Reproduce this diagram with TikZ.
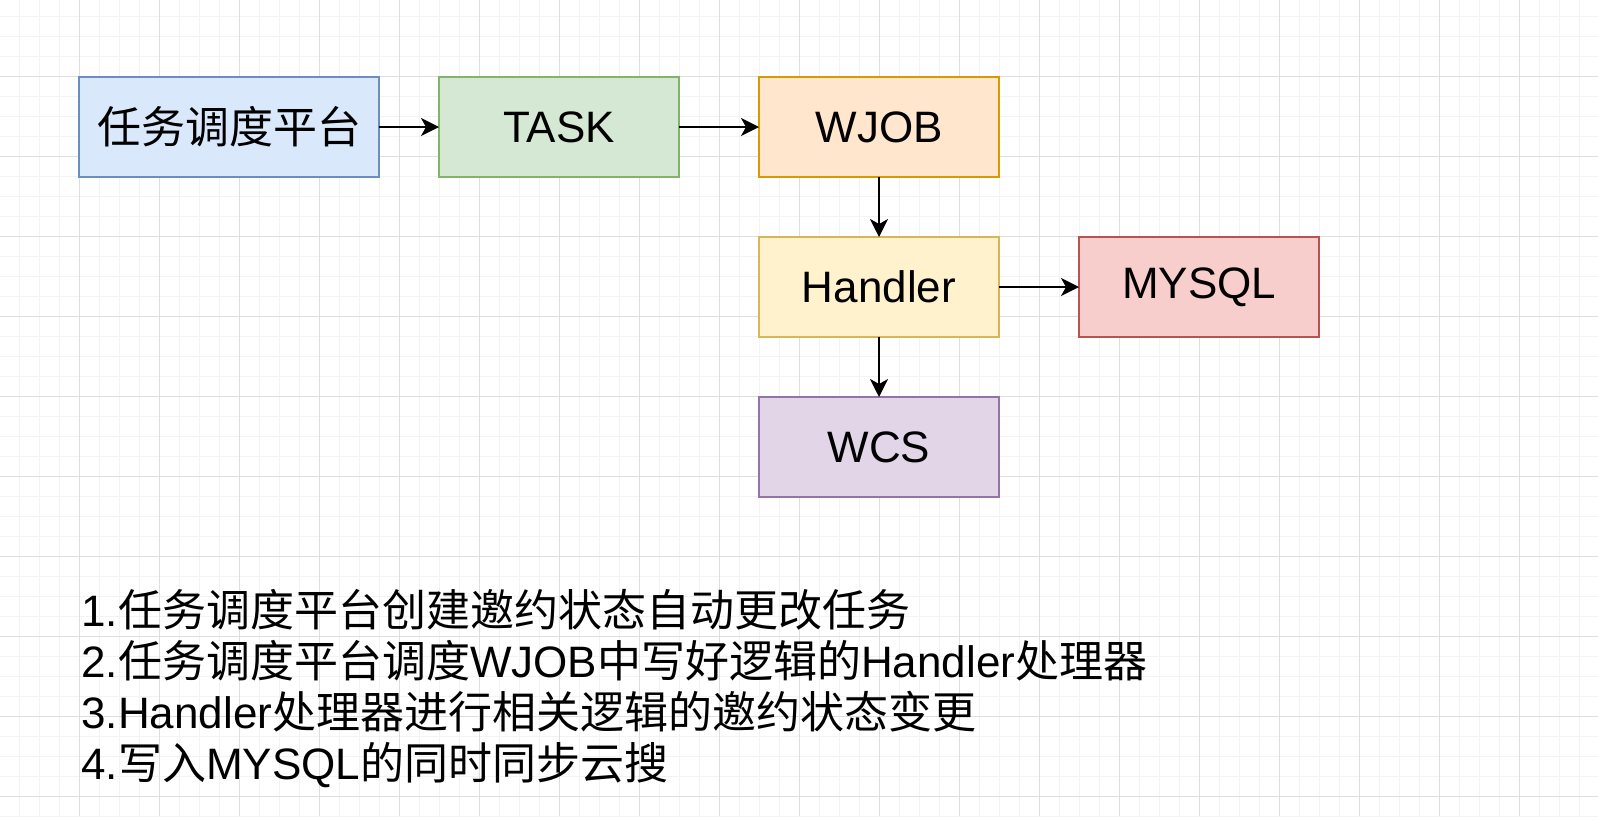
\documentclass[tikz,border=0pt]{standalone}
\usepackage{fontspec}
\setmainfont{Liberation Sans}
\newfontfamily\zhfont{Noto Sans CJK SC}
\usetikzlibrary{arrows.meta,positioning}

\definecolor{gridMinor}{HTML}{F3F3F3}
\definecolor{gridMajor}{HTML}{DEDEDE}
\definecolor{blueFill}{HTML}{DAE8FC}   \definecolor{blueLine}{HTML}{6C8EBF}
\definecolor{greenFill}{HTML}{D5E8D4}  \definecolor{greenLine}{HTML}{82B366}
\definecolor{orangeFill}{HTML}{FFE6CC} \definecolor{orangeLine}{HTML}{D79B00}
\definecolor{yellowFill}{HTML}{FFF2CC} \definecolor{yellowLine}{HTML}{D6B656}
\definecolor{redFill}{HTML}{F8CECC}    \definecolor{redLine}{HTML}{B85450}
\definecolor{purpleFill}{HTML}{E1D5E7} \definecolor{purpleLine}{HTML}{9673A6}

\begin{document}
\begin{tikzpicture}[> = {Stealth[length=9pt, width=9pt, inset=2.5pt]}, x = 0.5pt, y = -0.5pt,
		node distance = 30pt,
		box/.style = {draw, line width=0.7pt, minimum width=120pt, minimum height=50pt,
			inner sep=0pt, outer sep=0pt, font=\fontsize{22}{26}\selectfont},
		note/.style = {anchor=base west, inner sep=0pt, font=\fontsize{22}{26}\selectfont},
		link/.style = {->, line width=1pt}]
		\useasboundingbox (0,0) rectangle (1598,816);
		\fill[white] (0,0) rectangle (1598,816);
		% grid
		\foreach \x in {19,39,...,1598} \draw[gridMinor, line width=0.5pt] (\x,0) -- (\x,816);
		\foreach \y in {16,36,...,816} \draw[gridMinor, line width=0.5pt] (0,\y) -- (1598,\y);
		\foreach \x in {79,159,...,1598} \draw[gridMajor, line width=0.5pt] (\x,0) -- (\x,816);
		\foreach \y in {76,156,...,816} \draw[gridMajor, line width=0.5pt] (0,\y) -- (1598,\y);
		% boxes
		\node[box, minimum width=150pt, fill=blueFill, draw=blueLine] (platform) at (229,127) {\zhfont 任务调度平台};
		\node[box, fill=greenFill, draw=greenLine, right=of platform] (task) {TASK};
		\node[box, fill=orangeFill, draw=orangeLine, right=40pt of task] (wjob) {WJOB};
		\node[box, fill=yellowFill, draw=yellowLine, below=of wjob] (handler) {Handler};
		\node[box, fill=redFill, draw=redLine, right=40pt of handler] (mysql) {MYSQL};
		\node[box, fill=purpleFill, draw=purpleLine, below=of handler] (wcs) {WCS};
		\draw[link] (platform) -- (task);
		\draw[link] (task) -- (wjob);
		\draw[link] (wjob) -- (handler);
		\draw[link] (handler) -- (mysql);
		\draw[link] (handler) -- (wcs);
		% notes
		\node[note] (step1) at (81,626) {1.{\zhfont 任务调度平台创建邀约状态自动更改任务}};
		\node[note] (step2) at (81,677) {2.{\zhfont 任务调度平台调度}WJOB{\zhfont 中写好逻辑的}Handler{\zhfont 处理器}};
		\node[note] (step3) at (81,728) {3.Handler{\zhfont 处理器进行相关逻辑的邀约状态变更}};
		\node[note] (step4) at (81,779) {4.{\zhfont 写入}MYSQL{\zhfont 的同时同步云搜}};
	\end{tikzpicture}
\end{document}
